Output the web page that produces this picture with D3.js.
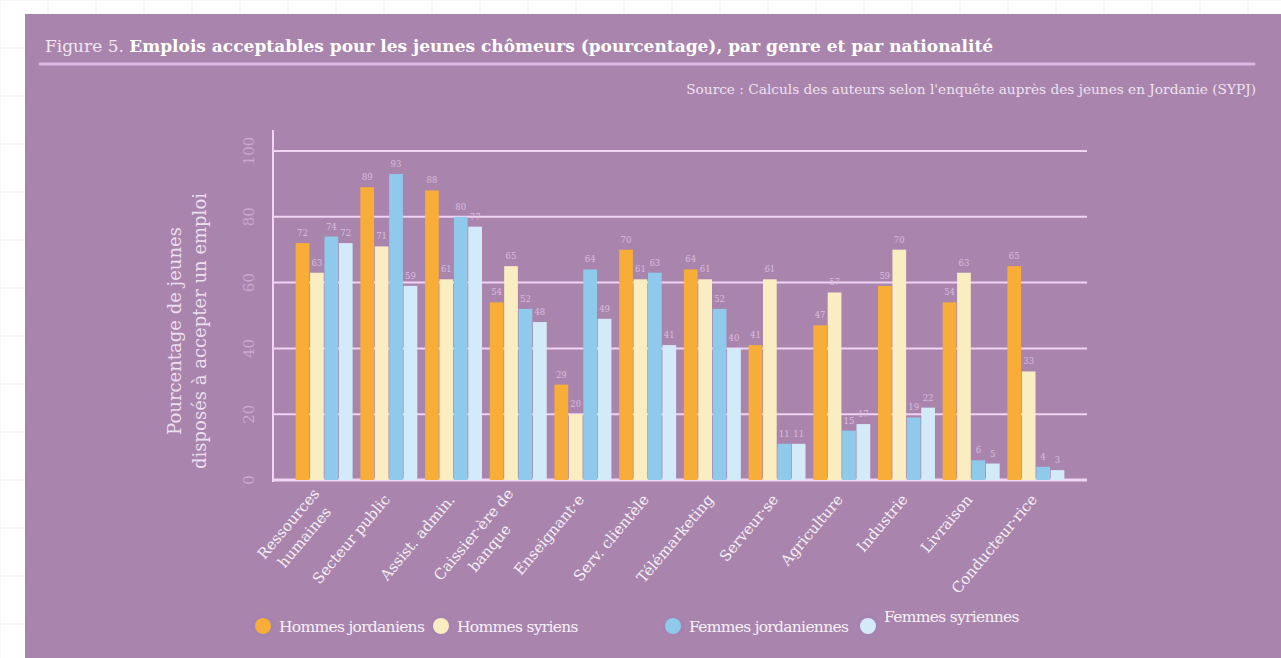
<!DOCTYPE html>
<html>
<head>
<meta charset="utf-8">
<script src="https://cdn.jsdelivr.net/npm/d3@7"></script>
<style>
  body { margin: 0; background: #fff; }
  svg { display: block; }
  text { font-family: "DejaVu Serif", serif; }
</style>
</head>
<body>
<svg id="chart"></svg>
<script>
const categories = [["Ressources", "humaines"], ["Secteur public"], ["Assist. admin."], ["Caissier·ère de", "banque"],
  ["Enseignant·e"], ["Serv. clientèle"], ["Télémarketing"], ["Serveur·se"], ["Agriculture"], ["Industrie"],
  ["Livraison"], ["Conducteur·rice"]];
const series = ["Hommes jordaniens", "Hommes syriens", "Femmes jordaniennes", "Femmes syriennes"];
const hommesJordaniens  = [72, 89, 88, 54, 29, 70, 64, 41, 47, 59, 54, 65];
const hommesSyriens     = [63, 71, 61, 65, 20, 61, 61, 61, 57, 70, 63, 33];
const femmesJordaniennes = [74, 93, 80, 52, 64, 63, 52, 11, 15, 19, 6, 4];
const femmesSyriennes   = [72, 59, 77, 48, 49, 41, 40, 11, 17, 22, 5, 3];
const yTicks = [0, 20, 40, 60, 80, 100];
const colors = ["#f7ad38", "#fbedc2", "#8fcaec", "#d3ebf8"];

const values = [hommesJordaniens, hommesSyriens, femmesJordaniennes, femmesSyriennes];
const data = categories.map((c, i) => ({ key: c.join(" "), label: c, vals: values.map(v => v[i]) }));

const W = 1281, H = 658;
const svg = d3.select("#chart").attr("width", W).attr("height", H);

// page background with faint grid
const page = svg.append("g");
d3.range(0, W, 48).forEach(x => page.append("line").attr("x1", x).attr("x2", x).attr("y1", 0).attr("y2", H).attr("stroke", "#f1f1f1"));
d3.range(0, H, 48).forEach(y => page.append("line").attr("x1", 0).attr("x2", W).attr("y1", y).attr("y2", y).attr("stroke", "#f1f1f1"));

svg.append("rect").attr("x", 25).attr("y", 14).attr("width", W - 25).attr("height", H - 14).attr("fill", "#a985ae");

// title
const title = svg.append("text").attr("x", 45).attr("y", 52).attr("fill", "#fff").style("font-size", "17px");
title.append("tspan").text("Figure 5. ").attr("fill", "#f1e6f2");
title.append("tspan").text("Emplois acceptables pour les jeunes chômeurs (pourcentage), par genre et par nationalité").style("font-weight", "bold");

svg.append("line").attr("x1", 40).attr("x2", 1254).attr("y1", 64).attr("y2", 64)
  .attr("stroke", "#dcb6e3").attr("stroke-width", 3).attr("stroke-linecap", "round");

svg.append("text").attr("x", 1256).attr("y", 94).attr("text-anchor", "end")
  .attr("fill", "#eee2f0").style("font-size", "13.7px")
  .text("Source : Calculs des auteurs selon l'enquête auprès des jeunes en Jordanie (SYPJ)");

// scales
const x0 = d3.scaleBand().domain(data.map(d => d.key)).range([273, 1087]).paddingInner(0.12).paddingOuter(0.35);
const x1 = d3.scaleBand().domain(d3.range(4)).range([0, x0.bandwidth()]).paddingInner(0.05);
const y = d3.scaleLinear().domain([0, 100]).range([480, 151]);

// grid
svg.append("g").selectAll("line").data(yTicks).enter().append("line")
  .attr("x1", 273).attr("x2", 1087).attr("y1", d => y(d)).attr("y2", d => y(d))
  .attr("stroke", "#f1d3f4").attr("stroke-width", d => d === 0 ? 3 : 2);
svg.append("line").attr("x1", 273).attr("x2", 273).attr("y1", 130).attr("y2", 482)
  .attr("stroke", "#f1d3f4").attr("stroke-width", 2);

// y tick labels
svg.append("g").selectAll("text").data(yTicks).enter().append("text")
  .attr("transform", d => `translate(254,${y(d)}) rotate(-90)`)
  .attr("text-anchor", "middle").attr("fill", "#c9a9cd").style("font-size", "15px")
  .text(d => d);

// y title
const yt = svg.append("text").attr("transform", "translate(181,331) rotate(-90)")
  .attr("text-anchor", "middle").attr("fill", "#ecdfee").style("font-size", "18px");
yt.append("tspan").attr("x", 0).attr("dy", 0).text("Pourcentage de jeunes");
yt.append("tspan").attr("x", 0).attr("dy", 25).text("disposés à accepter un emploi");

// bars
const groups = svg.append("g").selectAll("g").data(data).enter().append("g")
  .attr("transform", d => `translate(${x0(d.key)},0)`);

groups.selectAll("rect").data(d => d.vals).enter().append("rect")
  .attr("x", (v, i) => x1(i)).attr("width", x1.bandwidth())
  .attr("y", v => y(v)).attr("height", v => y(0) - y(v))
  .attr("fill", (v, i) => colors[i]);

groups.selectAll("text.val").data(d => d.vals).enter().append("text")
  .attr("class", "val")
  .attr("x", (v, i) => x1(i) + x1.bandwidth() / 2).attr("y", v => y(v) - 7)
  .attr("text-anchor", "middle").attr("fill", "#d9bcdc").style("font-size", "8.5px")
  .text(v => v);

// x labels
const xl = svg.append("g").selectAll("text").data(data).enter().append("text")
  .attr("transform", d => d.label.length > 1
    ? `translate(${x0(d.key) + x0.bandwidth() / 2 - 4},494) rotate(-50)`
    : `translate(${x0(d.key) + x0.bandwidth() / 2 + 2},500) rotate(-50)`)
  .attr("text-anchor", "end").attr("fill", "#f4eef5").style("font-size", "15px");
xl.each(function(d) {
  const t = d3.select(this);
  const spans = d.label.map((l, i) => t.append("tspan").attr("x", 0).attr("dy", i === 0 ? 0 : 21).text(l));
  if (spans.length > 1) {
    const w0 = spans[0].node().getComputedTextLength();
    const w1 = spans[1].node().getComputedTextLength();
    spans[1].attr("x", -(w0 - w1) / 2);
  }
});

// legend
const legendPos = [[263, 626], [441, 626], [673, 626], [868, 626]];
const defs = svg.append("defs");
colors.forEach((c, i) => {
  const g = defs.append("radialGradient").attr("id", "glow" + i);
  g.append("stop").attr("offset", "0%").attr("stop-color", "#8a72b6").attr("stop-opacity", 0.6);
  g.append("stop").attr("offset", "100%").attr("stop-color", "#a985ae").attr("stop-opacity", 0);
});
const leg = svg.append("g").selectAll("g").data(series).enter().append("g")
  .attr("transform", (d, i) => `translate(${legendPos[i][0]},${legendPos[i][1]})`);
leg.append("circle").attr("r", 17).attr("fill", (d, i) => `url(#glow${i})`);
leg.append("circle").attr("r", 8).attr("fill", (d, i) => colors[i]);
leg.append("text").attr("x", 16).attr("y", (d, i) => i === 3 ? -4 : 6)
  .attr("fill", "#f7f1f8").style("font-size", "15.5px").style("letter-spacing", "-0.7px")
  .text(d => d);
</script>
</body>
</html>
